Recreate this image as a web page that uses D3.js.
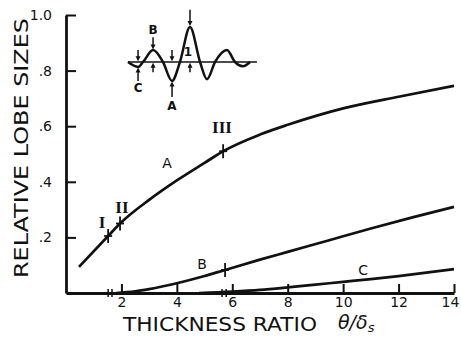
<!DOCTYPE html>
<html>
<head>
<meta charset="utf-8">
<script src="https://cdn.jsdelivr.net/npm/d3@7"></script>
<style>
  body { margin: 0; background: #fff; }
  text { font-family: "DejaVu Sans", sans-serif; fill: #111; }
  .roman { font-family: "Liberation Serif", serif; font-weight: bold; }
</style>
</head>
<body>
<svg id="chart"></svg>
<script>
// Chart size
const width = 461;
const height = 337;

// Tick values
const xTicks = [2, 4, 6, 8, 10, 12, 14];
const yTicks = [0.2, 0.4, 0.6, 0.8, 1.0];

// Curves: [thickness ratio, relative lobe size]
const curveA = [[0.47, 0.094], [1.52, 0.205], [1.95, 0.25], [3, 0.335], [4, 0.405], [5, 0.468],
  [5.67, 0.51], [7, 0.57], [8, 0.605], [10, 0.664], [12, 0.706], [14, 0.745]];
const curveB = [[1.8, 0], [2.5, 0.006], [3, 0.014], [4, 0.035], [5, 0.061], [5.74, 0.083],
  [7, 0.12], [8, 0.148], [9.5, 0.19], [11, 0.232], [12.5, 0.272], [14, 0.31]];
const curveC = [[4.8, 0], [6, 0.005], [7, 0.011], [8, 0.02], [9, 0.03], [10, 0.04],
  [11, 0.05], [12, 0.061], [13, 0.073], [14, 0.086]];

// Cross marks on the curves and on the axis
const curveMarks = [[1.52, 0.205], [1.95, 0.25], [5.67, 0.51], [5.74, 0.083]];
const axisMarks = [1.52, 1.66, 5.63, 5.78];

// Curve and case labels
const curveLabels = [
  { text: "A", x: 3.65, y: 0.468 },
  { text: "B", x: 4.91, y: 0.104 },
  { text: "C", x: 10.72, y: 0.083 }
];
const caseLabels = [
  { text: "I", x: 1.3, y: 0.255 },
  { text: "II", x: 2.02, y: 0.306 },
  { text: "III", x: 5.63, y: 0.594 }
];

// Inset: lobe pattern sketch (position, amplitude)
const lobes = [[-5, 0], [-4.19, -0.14], [-3.79, 0], [-2.98, 0.34], [-2.18, 0], [-1.45, -0.54],
  [-0.81, 0], [0, 1.0], [0.81, 0], [1.37, -0.49], [2.02, 0], [2.98, 0.34], [3.63, 0],
  [4.27, -0.12], [4.84, 0]];
const insetArrows = [
  { x: -4.19, from: 0.34, to: 0.02 },
  { x: -4.19, from: -0.54, to: -0.16 },
  { x: -2.98, from: 0.71, to: 0.36 },
  { x: -2.98, from: -0.29, to: -0.02 },
  { x: -1.45, from: 0.34, to: 0.02 },
  { x: -1.45, from: -1.0, to: -0.56 },
  { x: 0, from: 1.49, to: 1.03 },
  { x: 0, from: -0.29, to: -0.02 }
];
const insetLabels = [
  { text: "B", x: -2.98, y: 0.91 },
  { text: "C", x: -4.19, y: -0.74 },
  { text: "A", x: -1.45, y: -1.26 },
  { text: "1", x: -0.16, y: 0.29 }
];

const svg = d3.select("#chart")
  .attr("width", width)
  .attr("height", height);

// Scales
const x = d3.scaleLinear().domain([0, 14]).range([66, 454]);
const y = d3.scaleLinear().domain([0, 1]).range([293, 15]);

// Axes
const xAxis = svg.append("g")
  .attr("transform", `translate(0,${y(0)})`)
  .call(d3.axisBottom(x).tickValues(xTicks).tickSize(-9).tickSizeOuter(0).tickPadding(4));

const yAxis = svg.append("g")
  .attr("transform", `translate(${x(0)},0)`)
  .call(d3.axisLeft(y).tickValues(yTicks).tickSize(-10).tickSizeOuter(0).tickPadding(14)
    .tickFormat(d => d === 1 ? "1.0" : d.toFixed(1).replace(/^0/, "")));

[xAxis, yAxis].forEach(g => {
  g.select(".domain").attr("stroke", "#111").attr("stroke-width", 2.8);
  g.selectAll(".tick line").attr("stroke", "#111").attr("stroke-width", 2);
  g.selectAll(".tick text").attr("font-size", 14).attr("fill", "#111")
    .style("font-family", "DejaVu Sans, sans-serif");
});
// last x label sits against the right edge
xAxis.selectAll(".tick text").filter(d => d === 14).attr("dx", -4);

// Curves
const line = d3.line()
  .x(d => x(d[0]))
  .y(d => y(d[1]))
  .curve(d3.curveMonotoneX);

[curveA, curveB, curveC].forEach(c => {
  svg.append("path")
    .attr("d", line(c))
    .attr("fill", "none")
    .attr("stroke", "#111")
    .attr("stroke-width", 2.7);
});

// Cross marks
curveMarks.forEach(d => {
  svg.append("line")
    .attr("x1", x(d[0])).attr("x2", x(d[0]))
    .attr("y1", y(d[1]) - 7).attr("y2", y(d[1]) + 7)
    .attr("stroke", "#111").attr("stroke-width", 1.8);
  svg.append("line")
    .attr("x1", x(d[0]) - 4).attr("x2", x(d[0]) + 4)
    .attr("y1", y(d[1])).attr("y2", y(d[1]))
    .attr("stroke", "#111").attr("stroke-width", 1.8);
});
axisMarks.forEach(d => {
  svg.append("line")
    .attr("x1", x(d)).attr("x2", x(d))
    .attr("y1", y(0) - 4).attr("y2", y(0) + 4)
    .attr("stroke", "#111").attr("stroke-width", 1.5);
});

// Labels
svg.selectAll(".curve-label")
  .data(curveLabels)
  .enter()
  .append("text")
  .attr("x", d => x(d.x))
  .attr("y", d => y(d.y))
  .attr("text-anchor", "middle")
  .attr("dominant-baseline", "central")
  .attr("font-size", 14)
  .text(d => d.text);

svg.selectAll(".case-label")
  .data(caseLabels)
  .enter()
  .append("text")
  .attr("class", "roman")
  .attr("x", d => x(d.x))
  .attr("y", d => y(d.y))
  .attr("text-anchor", "middle")
  .attr("dominant-baseline", "central")
  .attr("font-size", 17)
  .text(d => d.text);

// Axis titles
svg.append("text")
  .attr("x", 123)
  .attr("y", 331)
  .attr("font-size", 19)
  .attr("textLength", 194)
  .attr("lengthAdjust", "spacingAndGlyphs")
  .text("THICKNESS RATIO");

const ratio = svg.append("text")
  .attr("x", 338)
  .attr("y", 329)
  .attr("font-size", 19)
  .attr("font-style", "italic");
ratio.append("tspan").text("θ/δ");
ratio.append("tspan").attr("font-size", 13).attr("dy", 3).text("s");

svg.append("text")
  .attr("transform", "translate(28,278) rotate(-90)")
  .attr("font-size", 20)
  .attr("textLength", 260)
  .attr("lengthAdjust", "spacingAndGlyphs")
  .text("RELATIVE LOBE SIZES");

// Inset sketch
const ix = d3.scaleLinear().domain([-5, 5]).range([128, 252]);
const iy = d3.scaleLinear().domain([-1, 1]).range([97, 27]);

const inset = svg.append("g");

inset.append("line")
  .attr("x1", ix(-5)).attr("x2", ix(5.4))
  .attr("y1", iy(0)).attr("y2", iy(0))
  .attr("stroke", "#111").attr("stroke-width", 1.5);

inset.append("path")
  .attr("d", d3.line().x(d => ix(d[0])).y(d => iy(d[1])).curve(d3.curveMonotoneX)(lobes))
  .attr("fill", "none")
  .attr("stroke", "#111")
  .attr("stroke-width", 2.5);

insetArrows.forEach(a => {
  const x0 = ix(a.x);
  const y0 = iy(a.from);
  const y1 = iy(a.to);
  const dir = y1 > y0 ? 1 : -1;
  inset.append("line")
    .attr("x1", x0).attr("x2", x0)
    .attr("y1", y0).attr("y2", y1 - dir * 3)
    .attr("stroke", "#111").attr("stroke-width", 1.5);
  inset.append("path")
    .attr("d", `M${x0 - 2.5},${y1 - dir * 5}L${x0 + 2.5},${y1 - dir * 5}L${x0},${y1}Z`)
    .attr("fill", "#111");
});

inset.selectAll(".inset-label")
  .data(insetLabels)
  .enter()
  .append("text")
  .attr("x", d => ix(d.x))
  .attr("y", d => iy(d.y))
  .attr("text-anchor", "middle")
  .attr("dominant-baseline", "central")
  .attr("font-size", 12)
  .attr("font-weight", "bold")
  .text(d => d.text);
</script>
</body>
</html>
